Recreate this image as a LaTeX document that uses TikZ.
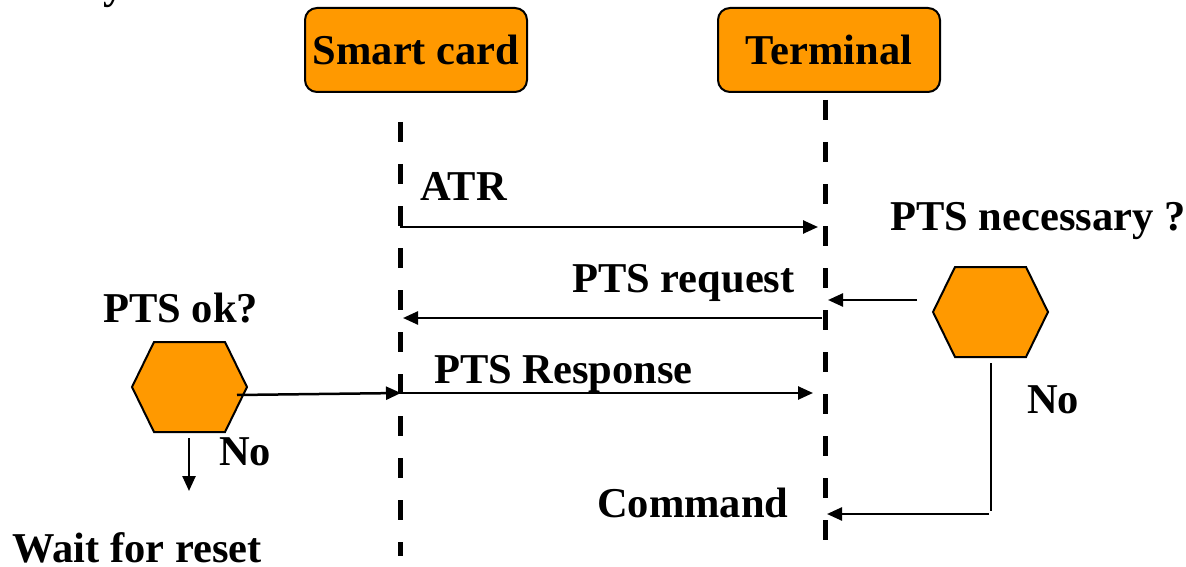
\documentclass[tikz,border=0pt]{standalone}
\usepackage{fontspec}
\setmainfont{Liberation Serif}
\usetikzlibrary{arrows.meta}
\definecolor{orng}{HTML}{FF9900}
\tikzset{
  lbl/.style={font=\fontsize{42.5}{50}\selectfont\bfseries, inner sep=0pt, anchor=base west},
  actor/.style={draw=black, line width=2pt, fill=orng, rounded corners=12pt,
    minimum width=222pt, minimum height=84pt, inner sep=0pt,
    font=\fontsize{42.5}{50}\selectfont\bfseries},
  life/.style={line width=5pt, dash pattern=on 20pt off 22pt},
  msg/.style={line width=2.5pt, -{Triangle[length=15pt,width=13pt]}},
  wire/.style={line width=2.5pt},
  hexa/.style={draw=black, line width=2pt, fill=orng, line join=miter},
}
\begin{document}
\begin{tikzpicture}[x=1pt,y=-1pt]
\path[use as bounding box] (0,0) rectangle (1186,567);

% cut-off title fragment
\node[lbl] (title) at (103,-1) {y};

% actors
\node[actor] (sc) at (416,50) {Smart card};
\node[actor] (tm) at (829,50) {Terminal};

% lifelines
\coordinate (scTop) at (400,122);
\coordinate (scBot) at (400,556);
\coordinate (tmTop) at (825,100);
\coordinate (tmBot) at (825,540);
\draw[life] (scTop) -- (scBot);
\draw[life] (tmTop) -- (tmBot);

% hexagons
\coordinate (rhex) at (990.5,312);
\coordinate (lhex) at (189.5,387);
\draw[hexa] (rhex) ++(-57.5,0) -- ++(22,-45) -- ++(71,0) -- ++(22,45) -- ++(-22,45) -- ++(-71,0) -- cycle;
\draw[hexa] (lhex) ++(-57.5,0) -- ++(22,-45) -- ++(71,0) -- ++(22,45) -- ++(-22,45) -- ++(-71,0) -- cycle;

% message end points
\coordinate (atrS) at (400,227);
\coordinate (atrE) at (818,227);
\coordinate (reqS) at (822,318);
\coordinate (reqE) at (403,318);
\coordinate (necS) at (917,300);
\coordinate (necE) at (828,300);
\coordinate (okS) at (237,395);
\coordinate (resS) at (401,393);
\coordinate (resE) at (813,393);
\coordinate (noS) at (991,363);
\coordinate (noC) at (991,511);
\coordinate (cmdS) at (989,514);
\coordinate (cmdE) at (827,514);
\coordinate (waitS) at (189,438);
\coordinate (waitE) at (189,491);

% connectors
\draw[msg] (atrS) -- (atrE);
\draw[msg] (reqS) -- (reqE);
\draw[msg] (necS) -- (necE);
\draw[msg] (okS) -- (resS);
\draw[msg] (resS) -- (resE);
\draw[wire] (noS) -- (noC);
\draw[msg] (cmdS) -- (cmdE);
\draw[msg] (waitS) -- (waitE);

% labels
\node[lbl] (atr) at (420,200) {ATR};
\node[lbl] (preq) at (572,292) {PTS request};
\node[lbl] (pnec) at (890,230) {PTS necessary ?};
\node[lbl] (pok) at (103,322) {PTS ok?};
\node[lbl] (pres) at (434,383) {PTS Response};
\node[lbl] (nor) at (1027,413) {No};
\node[lbl] (nol) at (219,465) {No};
\node[lbl] (cmd) at (597,517) {Command};
\node[lbl] (wait) at (12,562) {Wait for reset};
\end{tikzpicture}
\end{document}
